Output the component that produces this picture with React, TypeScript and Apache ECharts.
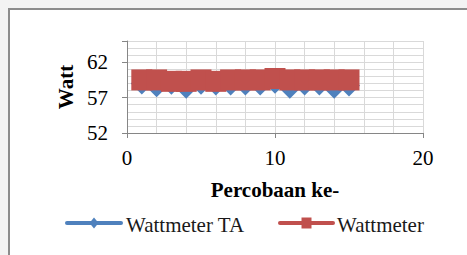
import React, { useEffect, useRef } from "react";
import * as echarts from "echarts";

const trials = [1, 2, 3, 4, 5, 6, 7, 8, 9, 10, 11, 12, 13, 14, 15];
const wattmeterTA = [59.0, 58.6, 58.95, 58.4, 58.95, 58.85, 58.85, 58.85, 58.85, 59.1, 58.4, 58.85, 58.85, 58.4, 58.7];
const wattmeter = [59.5, 59.5, 59.3, 59.3, 59.5, 59.3, 59.5, 59.5, 59.5, 59.7, 59.5, 59.5, 59.5, 59.5, 59.5];
const seriesNames = ["Wattmeter TA", "Wattmeter"];
const seriesColors = ["#4f81bd", "#c0504d"];
const yAxisName = "Watt";
const xAxisName = "Percobaan ke-";

const FONT = "Liberation Serif";
const FS = 21;
const GRID_COLOR = "#d9d9d9";
const AXIS_COLOR = "#868686";

export default function App() {
  const ref = useRef<HTMLDivElement>(null);
  useEffect(() => {
    if (!ref.current) return;
    const chart = echarts.init(ref.current, undefined, { renderer: "svg" });
    const blueData = trials.map((t, i) => [t, wattmeterTA[i]]);
    const redData = trials.map((t, i) => [t, wattmeter[i]]);
    const ly = 223;
    const legendItems = [
      { x0: 67, x1: 121, tx: 126 },
      { x0: 280, x1: 333, tx: 337 },
    ];
    const legendGraphics: any[] = [];
    legendItems.forEach((it, i) => {
      const c = seriesColors[i];
      const cx = (it.x0 + it.x1) / 2;
      legendGraphics.push({
        type: "line",
        shape: { x1: it.x0, y1: ly, x2: it.x1, y2: ly },
        style: { stroke: c, lineWidth: 4, lineCap: "round" },
      });
      if (i === 0) {
        legendGraphics.push({
          type: "polygon",
          shape: { points: [[cx, ly - 5.5], [cx + 4.5, ly], [cx, ly + 5.5], [cx - 4.5, ly]] },
          style: { fill: c },
        });
      } else {
        legendGraphics.push({
          type: "rect",
          shape: { x: cx - 5, y: ly - 5.5, width: 10, height: 11 },
          style: { fill: c },
        });
      }
      legendGraphics.push({
        type: "text",
        x: it.tx,
        y: ly + 1.5,
        style: {
          text: seriesNames[i],
          font: FS + "px 'Liberation Serif'",
          fill: "#1a1a1a",
          verticalAlign: "middle",
          align: "left",
        },
      });
    });
    chart.setOption({
      animation: false,
      backgroundColor: "#f3f3f3",
      textStyle: { fontFamily: FONT },
      graphic: [
        {
          type: "rect",
          shape: { x: 9, y: 9, width: 470, height: 260 },
          style: { fill: "#ffffff", stroke: "#8c8c8c", lineWidth: 2 },
          z: -10,
        },
        ...legendGraphics,
      ],
      grid: { left: 127, top: 41, width: 296, height: 92 },
      xAxis: [
        {
          type: "value",
          min: 0,
          max: 20,
          interval: 2,
          axisLine: { show: true, lineStyle: { color: AXIS_COLOR } },
          axisTick: { show: false },
          axisLabel: { show: false },
          splitLine: { show: true, lineStyle: { color: GRID_COLOR, width: 1 } },
        },
        {
          type: "value",
          position: "bottom",
          min: 0,
          max: 20,
          interval: 10,
          axisLine: { show: false },
          axisTick: { show: true, length: 5, lineStyle: { color: AXIS_COLOR } },
          axisLabel: { show: true, margin: 14, fontFamily: FONT, fontSize: FS, color: "#000" },
          splitLine: { show: false },
          name: xAxisName,
          nameLocation: "middle",
          nameGap: 46,
          nameTextStyle: { fontFamily: FONT, fontSize: FS, fontWeight: "bold", color: "#000", verticalAlign: "top" },
        },
      ],
      yAxis: [
        {
          type: "value",
          min: 52,
          max: 65,
          interval: 1,
          axisLine: { show: true, lineStyle: { color: AXIS_COLOR } },
          axisTick: { show: false },
          axisLabel: { show: false },
          splitLine: { show: true, lineStyle: { color: GRID_COLOR, width: 1 } },
        },
        {
          type: "value",
          position: "left",
          min: 52,
          max: 65,
          interval: 5,
          axisLine: { show: false },
          axisTick: { show: true, length: 5, lineStyle: { color: AXIS_COLOR } },
          axisLabel: {
            show: true,
            margin: 19,
            fontFamily: FONT,
            fontSize: FS,
            color: "#000",
            formatter: (v: number) => (v === 65 ? "" : String(v)),
          },
          splitLine: { show: false },
          name: yAxisName,
          nameLocation: "middle",
          nameGap: 55,
          nameRotate: 90,
          nameTextStyle: { fontFamily: FONT, fontSize: FS, fontWeight: "bold", color: "#000", verticalAlign: "middle" },
        },
      ],
      series: [
        {
          name: seriesNames[0],
          type: "line",
          data: blueData,
          symbol: "diamond",
          symbolSize: 22,
          color: seriesColors[0],
          lineStyle: { width: 3, color: seriesColors[0] },
          itemStyle: { color: seriesColors[0] },
          z: 2,
        },
        {
          name: seriesNames[1],
          type: "line",
          data: redData,
          symbol: "rect",
          symbolSize: 21,
          color: seriesColors[1],
          lineStyle: { width: 3, color: seriesColors[1] },
          itemStyle: { color: seriesColors[1] },
          z: 3,
        },
      ],
    });
    return () => chart.dispose();
  }, []);
  return (
    <div
      ref={ref}
      style={{ position: "absolute", left: 0, top: 0, width: 467, height: 255 }}
    />
  );
}
